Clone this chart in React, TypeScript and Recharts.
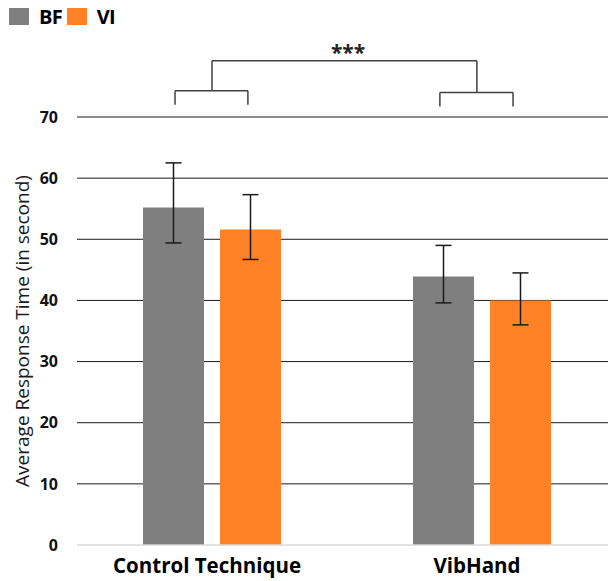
import React from "react";
import {
  BarChart,
  Bar,
  XAxis,
  YAxis,
  CartesianGrid,
  ErrorBar,
  ReferenceLine,
  ReferenceDot,
  Label,
} from "recharts";

const categories = ["Control Technique", "VibHand"];
const bfMeans = [55.2, 43.9];
const viMeans = [51.6, 40.0];
// [below, above] error per category
const bfErrors = [[5.8, 7.3], [4.3, 5.1]];
const viErrors = [[4.9, 5.7], [4.0, 4.5]];
const yTicks = [0, 10, 20, 30, 40, 50, 60, 70];

// significance brackets, x as fraction of plot width, y in seconds
const brackets = [
  [[0.1815, 72.0], [0.1815, 74.3], [0.3165, 74.3], [0.3165, 72.0]],
  [[0.672, 71.7], [0.672, 74.0], [0.8075, 74.0], [0.8075, 71.7]],
  [[0.25, 74.3], [0.25, 79.2], [0.7405, 79.2], [0.7405, 74.0]],
];
const starsAt = [0.502, 79.2];

const GRAY = "#7f7f7f";
const ORANGE = "#ff8228";
const FONT = "'Open Sans', sans-serif";

const data = categories.map((name, i) => ({
  name,
  BF: bfMeans[i],
  VI: viMeans[i],
  bfErr: bfErrors[i],
  viErr: viErrors[i],
}));

const legendItems = [
  { label: "BF", color: GRAY },
  { label: "VI", color: ORANGE },
];

const LegendBox = () => (
  <div
    style={{
      position: "absolute",
      top: 3,
      left: 9,
      display: "flex",
      alignItems: "center",
      fontFamily: FONT,
      fontWeight: 700,
      fontSize: 20,
    }}
  >
    {legendItems.map((it) => (
      <div key={it.label} style={{ display: "flex", alignItems: "center", marginRight: 5 }}>
        <div style={{ width: 20, height: 17, background: it.color, marginRight: 10 }} />
        <span style={{ color: "#000", letterSpacing: -0.8 }}>{it.label}</span>
      </div>
    ))}
  </div>
);

const XTick = (props: any) => {
  const { x, y, payload } = props;
  return (
    <text x={x - 5} y={y + 20} textAnchor="middle" fontFamily={FONT} fontWeight={700} fontSize={20.5} fill="#000">
      {payload.value}
    </text>
  );
};

export default function App() {
  return (
    <div style={{ position: "absolute", left: 0, top: 0, width: 608, height: 581, overflow: "hidden", background: "#fff" }}>
      <BarChart
        width={625}
        height={581}
        data={data}
        margin={{ top: 117, right: 8, left: 0, bottom: 0 }}
        barSize={61}
        barGap={16}
      >
        <CartesianGrid horizontal vertical={false} stroke="#1a1a1a" horizontalValues={[10, 20, 30, 40, 50, 60, 70]} />
        <XAxis
          dataKey="name"
          height={36}
          tickLine={false}
          axisLine={{ stroke: "#d9d9d9", strokeWidth: 1.5 }}
          tick={<XTick />}
          interval={0}
        />
        <XAxis xAxisId="n" type="number" domain={[0, 1]} hide allowDataOverflow />
        <YAxis
          width={77}
          domain={[0, 70]}
          ticks={yTicks}
          interval={0}
          axisLine={false}
          tickLine={false}
          tickMargin={13}
          tick={{ fontFamily: FONT, fontWeight: 700, fontSize: 16, fill: "#111" }}
        >
          <Label
            content={(p: any) => {
              const vb = p.viewBox;
              const cy = vb.y + vb.height / 2;
              return (
                <text
                  x={22}
                  y={cy}
                  transform={`rotate(-90, 22, ${cy})`}
                  textAnchor="middle"
                  dominantBaseline="central"
                  fontFamily={FONT}
                  fontSize={19}
                  fill="#1a1a1a"
                >
                  Average Response Time (in second)
                </text>
              );
            }}
          />
        </YAxis>
        <Bar dataKey="BF" fill={GRAY} isAnimationActive={false}>
          <ErrorBar dataKey="bfErr" width={8} stroke="#1a1a1a" strokeWidth={1.5} />
        </Bar>
        <Bar dataKey="VI" fill={ORANGE} isAnimationActive={false}>
          <ErrorBar dataKey="viErr" width={8} stroke="#1a1a1a" strokeWidth={1.5} />
        </Bar>
        {brackets.flatMap((pts, bi) =>
          pts.slice(1).map((p, si) => (
            <ReferenceLine
              key={`b${bi}-${si}`}
              xAxisId="n"
              ifOverflow="visible"
              stroke="#404040"
              strokeWidth={1.5}
              segment={[
                { x: pts[si][0], y: pts[si][1] },
                { x: p[0], y: p[1] },
              ]}
            />
          ))
        )}
        <ReferenceDot
          xAxisId="n"
          x={starsAt[0]}
          y={starsAt[1]}
          r={0}
          ifOverflow="visible"
          label={{ value: "***", position: "top", offset: 1, fontFamily: FONT, fontWeight: 700, fontSize: 21, fill: "#222" }}
        />
      </BarChart>
      <LegendBox />
    </div>
  );
}
